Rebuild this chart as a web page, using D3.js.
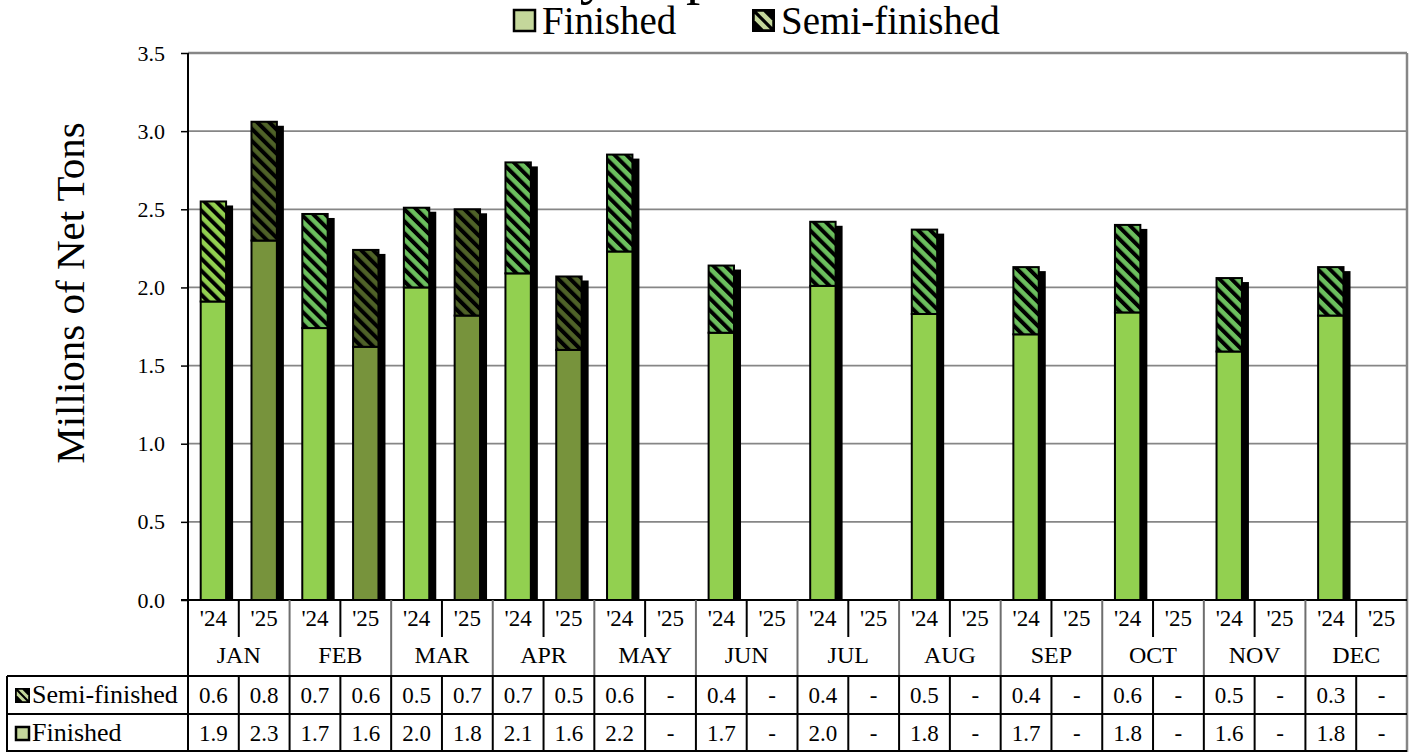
<!DOCTYPE html>
<html>
<head>
<meta charset="utf-8">
<script src="https://cdn.jsdelivr.net/npm/d3@7"></script>
<style>
  body { margin: 0; background: #fff; }
  svg { display: block; font-family: "Liberation Serif", "Times New Roman", serif; }
</style>
</head>
<body>
<script>
// values (millions of net tons)
const months = ["JAN", "FEB", "MAR", "APR", "MAY", "JUN", "JUL", "AUG", "SEP", "OCT", "NOV", "DEC"];
const years = ["'24", "'25"];
const finished24 = [1.91, 1.74, 2.00, 2.09, 2.23, 1.71, 2.01, 1.83, 1.70, 1.84, 1.59, 1.82];
const semi24 = [0.64, 0.73, 0.51, 0.71, 0.62, 0.43, 0.41, 0.54, 0.43, 0.56, 0.47, 0.31];
const finished25 = [2.30, 1.62, 1.82, 1.60, null, null, null, null, null, null, null, null];
const semi25 = [0.76, 0.62, 0.68, 0.47, null, null, null, null, null, null, null, null];
const yTicks = [0, 0.5, 1.0, 1.5, 2.0, 2.5, 3.0, 3.5];
const seriesNames = ["Semi-finished", "Finished"];

const W = 1418, H = 753;
const m = {left: 188, right: 1407, top: 53, bottom: 600};
const rows = {year: 637, month: 676, semi: 714, fin: 752, tableLeft: 7};

const slots = [];
months.forEach((mo, i) => years.forEach((yr, j) => {
  slots.push({
    key: mo + yr, month: mo, year: yr, mi: i, yi: j,
    fin: j ? finished25[i] : finished24[i],
    semi: j ? semi25[i] : semi24[i]
  });
}));

const x = d3.scaleBand().domain(slots.map(d => d.key)).range([m.left, m.right])
  .paddingInner(0.5).paddingOuter(0.25);
const xs = d3.scaleBand().domain(slots.map(d => d.key)).range([m.left, m.right]);
const xm = d3.scaleBand().domain(months).range([m.left, m.right]);
const y = d3.scaleLinear().domain([0, 3.5]).range([m.bottom, m.top]);
const fmt = d3.format(".1f");

const colors = {
  fin24: "#92D050", fin25: "#77933C",
  semi24: "#6CBF5E", semi24jan: "#92D050", semi25: "#4F6228",
  legend: "#C4D79B", grid: "#868686"
};

const svg = d3.select("body").append("svg").attr("width", W).attr("height", H);
const defs = svg.append("defs");

function hatch(id, bg, size) {
  const p = defs.append("pattern").attr("id", id)
    .attr("patternUnits", "userSpaceOnUse")
    .attr("width", size).attr("height", size)
    .attr("patternTransform", "rotate(-45)");
  p.append("rect").attr("width", size).attr("height", size).attr("fill", bg);
  p.append("rect").attr("width", size * 0.47).attr("height", size).attr("fill", "#000");
}
hatch("h24", colors.semi24, 8.5);
hatch("h24jan", colors.semi24jan, 8.5);
hatch("h25", colors.semi25, 8.5);

// title (mostly cut off above the frame)
svg.append("text").attr("x", 412).attr("y", -7)
  .attr("font-size", 57).text("Monthly Imports");

// gridlines
svg.append("g").selectAll("line").data(yTicks.filter(d => d > 0)).join("line")
  .attr("x1", m.left).attr("x2", m.right)
  .attr("y1", d => y(d)).attr("y2", d => y(d))
  .attr("stroke", colors.grid).attr("stroke-width", d => d === 3.5 ? 2.5 : 1.8);
svg.append("line").attr("x1", m.right).attr("x2", m.right)
  .attr("y1", m.top).attr("y2", rows.fin)
  .attr("stroke", colors.grid).attr("stroke-width", 2.5);

// bars
const bw = x.bandwidth();
const bars = svg.append("g").selectAll("g").data(slots.filter(d => d.fin != null)).join("g");
bars.append("rect")
  .attr("x", d => x(d.key) + 7).attr("y", d => y(d.fin + d.semi) + 4)
  .attr("width", bw).attr("height", d => m.bottom - y(d.fin + d.semi) - 4)
  .attr("fill", "#000");
bars.append("rect")
  .attr("x", d => x(d.key)).attr("y", d => y(d.fin))
  .attr("width", bw).attr("height", d => m.bottom - y(d.fin))
  .attr("fill", d => d.yi ? colors.fin25 : colors.fin24)
  .attr("stroke", "#000").attr("stroke-width", 2);
bars.append("rect")
  .attr("x", d => x(d.key)).attr("y", d => y(d.fin + d.semi))
  .attr("width", bw).attr("height", d => y(d.fin) - y(d.fin + d.semi))
  .attr("fill", d => d.yi ? "url(#h25)" : (d.mi === 0 ? "url(#h24jan)" : "url(#h24)"))
  .attr("stroke", "#000").attr("stroke-width", 2);

// y axis
const yAxis = svg.append("g").attr("transform", `translate(${m.left},0)`)
  .call(d3.axisLeft(y).tickValues(yTicks).tickFormat(fmt).tickSize(7).tickPadding(16));
yAxis.select(".domain").remove();
yAxis.selectAll(".tick line").attr("stroke", "#000").attr("stroke-width", 1.5);
yAxis.selectAll(".tick text").attr("font-size", 22).attr("fill", "#000")
  .attr("font-family", "Liberation Serif");
svg.append("line").attr("x1", m.left).attr("x2", m.left)
  .attr("y1", m.top).attr("y2", rows.fin).attr("stroke", "#000").attr("stroke-width", 2);
svg.append("line").attr("x1", m.left - 7).attr("x2", m.right)
  .attr("y1", m.bottom).attr("y2", m.bottom).attr("stroke", "#000").attr("stroke-width", 2);

svg.append("text")
  .attr("transform", "translate(84,293) rotate(-90)")
  .attr("text-anchor", "middle").attr("font-size", 41)
  .text("Millions of Net Tons");

// data table
const tbl = svg.append("g");
// year separators (within month)
tbl.selectAll("line.yr").data(months).join("line").attr("class", "yr")
  .attr("x1", d => xm(d) + xm.bandwidth() / 2).attr("x2", d => xm(d) + xm.bandwidth() / 2)
  .attr("y1", m.bottom).attr("y2", rows.year)
  .attr("stroke", "#000").attr("stroke-width", 2);
// month separators
tbl.selectAll("line.mo").data(months.slice(1)).join("line").attr("class", "mo")
  .attr("x1", d => xm(d)).attr("x2", d => xm(d))
  .attr("y1", m.bottom).attr("y2", rows.month)
  .attr("stroke", "#6e6e6e").attr("stroke-width", 2);
// value cell separators
tbl.selectAll("line.cell").data(slots.slice(1)).join("line").attr("class", "cell")
  .attr("x1", d => xs(d.key)).attr("x2", d => xs(d.key))
  .attr("y1", rows.month).attr("y2", rows.fin)
  .attr("stroke", "#000").attr("stroke-width", 2);
[rows.month, rows.semi, rows.fin - 1].forEach(yy => {
  tbl.append("line").attr("x1", rows.tableLeft).attr("x2", m.right)
    .attr("y1", yy).attr("y2", yy).attr("stroke", "#000").attr("stroke-width", 2);
});
tbl.append("line").attr("x1", rows.tableLeft).attr("x2", rows.tableLeft)
  .attr("y1", rows.month).attr("y2", rows.fin).attr("stroke", "#000").attr("stroke-width", 2);

tbl.selectAll("text.yr").data(slots).join("text").attr("class", "yr")
  .attr("x", d => xs(d.key) + xs.bandwidth() / 2).attr("y", 626)
  .attr("text-anchor", "middle").attr("font-size", 23).text(d => d.year);
tbl.selectAll("text.mo").data(months).join("text").attr("class", "mo")
  .attr("x", d => xm(d) + xm.bandwidth() / 2).attr("y", 663)
  .attr("text-anchor", "middle").attr("font-size", 24).text(d => d);
tbl.selectAll("text.sv").data(slots).join("text").attr("class", "sv")
  .attr("x", d => xs(d.key) + xs.bandwidth() / 2).attr("y", 703)
  .attr("text-anchor", "middle").attr("font-size", 23)
  .text(d => d.semi == null ? "-" : fmt(d.semi));
tbl.selectAll("text.fv").data(slots).join("text").attr("class", "fv")
  .attr("x", d => xs(d.key) + xs.bandwidth() / 2).attr("y", 741)
  .attr("text-anchor", "middle").attr("font-size", 23)
  .text(d => d.fin == null ? "-" : fmt(d.fin));

// legend key icons
function semiIcon(g, s) {
  g.append("rect").attr("width", s).attr("height", s).attr("fill", "#000");
  g.append("polygon")
    .attr("points", `${s * 0.22},${s * 0.12} ${s * 0.5},${s * 0.12} ${s * 0.88},${s * 0.5} ${s * 0.88},${s * 0.78}`)
    .attr("fill", colors.legend);
  g.append("polygon")
    .attr("points", `${s * 0.12},${s * 0.22} ${s * 0.78},${s * 0.88} ${s * 0.5},${s * 0.88} ${s * 0.12},${s * 0.5}`)
    .attr("fill", colors.legend);
}
function finIcon(g, s) {
  g.append("rect").attr("x", 1).attr("y", 1).attr("width", s - 2).attr("height", s - 2)
    .attr("fill", colors.legend).attr("stroke", "#000").attr("stroke-width", 2.5);
}
const rowLabels = tbl.selectAll("g.rl").data(seriesNames).join("g").attr("class", "rl")
  .attr("transform", (d, i) => `translate(0,${i ? rows.semi : rows.month})`);
rowLabels.each(function(d, i) {
  const g = d3.select(this).append("g").attr("transform", "translate(15,12)");
  if (i === 0) semiIcon(g, 15); else finIcon(g, 15);
});
rowLabels.append("text").attr("x", 32).attr("y", 27).attr("font-size", 26).text(d => d);

// top legend
const leg = svg.append("g");
const legItems = [{name: "Finished", x: 513}, {name: "Semi-finished", x: 752}];
leg.selectAll("g").data(legItems).join("g")
  .attr("transform", d => `translate(${d.x},9)`)
  .each(function(d, i) {
    const g = d3.select(this);
    if (i === 0) finIcon(g, 23); else semiIcon(g, 23);
    g.append("text").attr("x", 29).attr("y", 25).attr("font-size", 39).text(d.name);
  });
</script>
</body>
</html>
